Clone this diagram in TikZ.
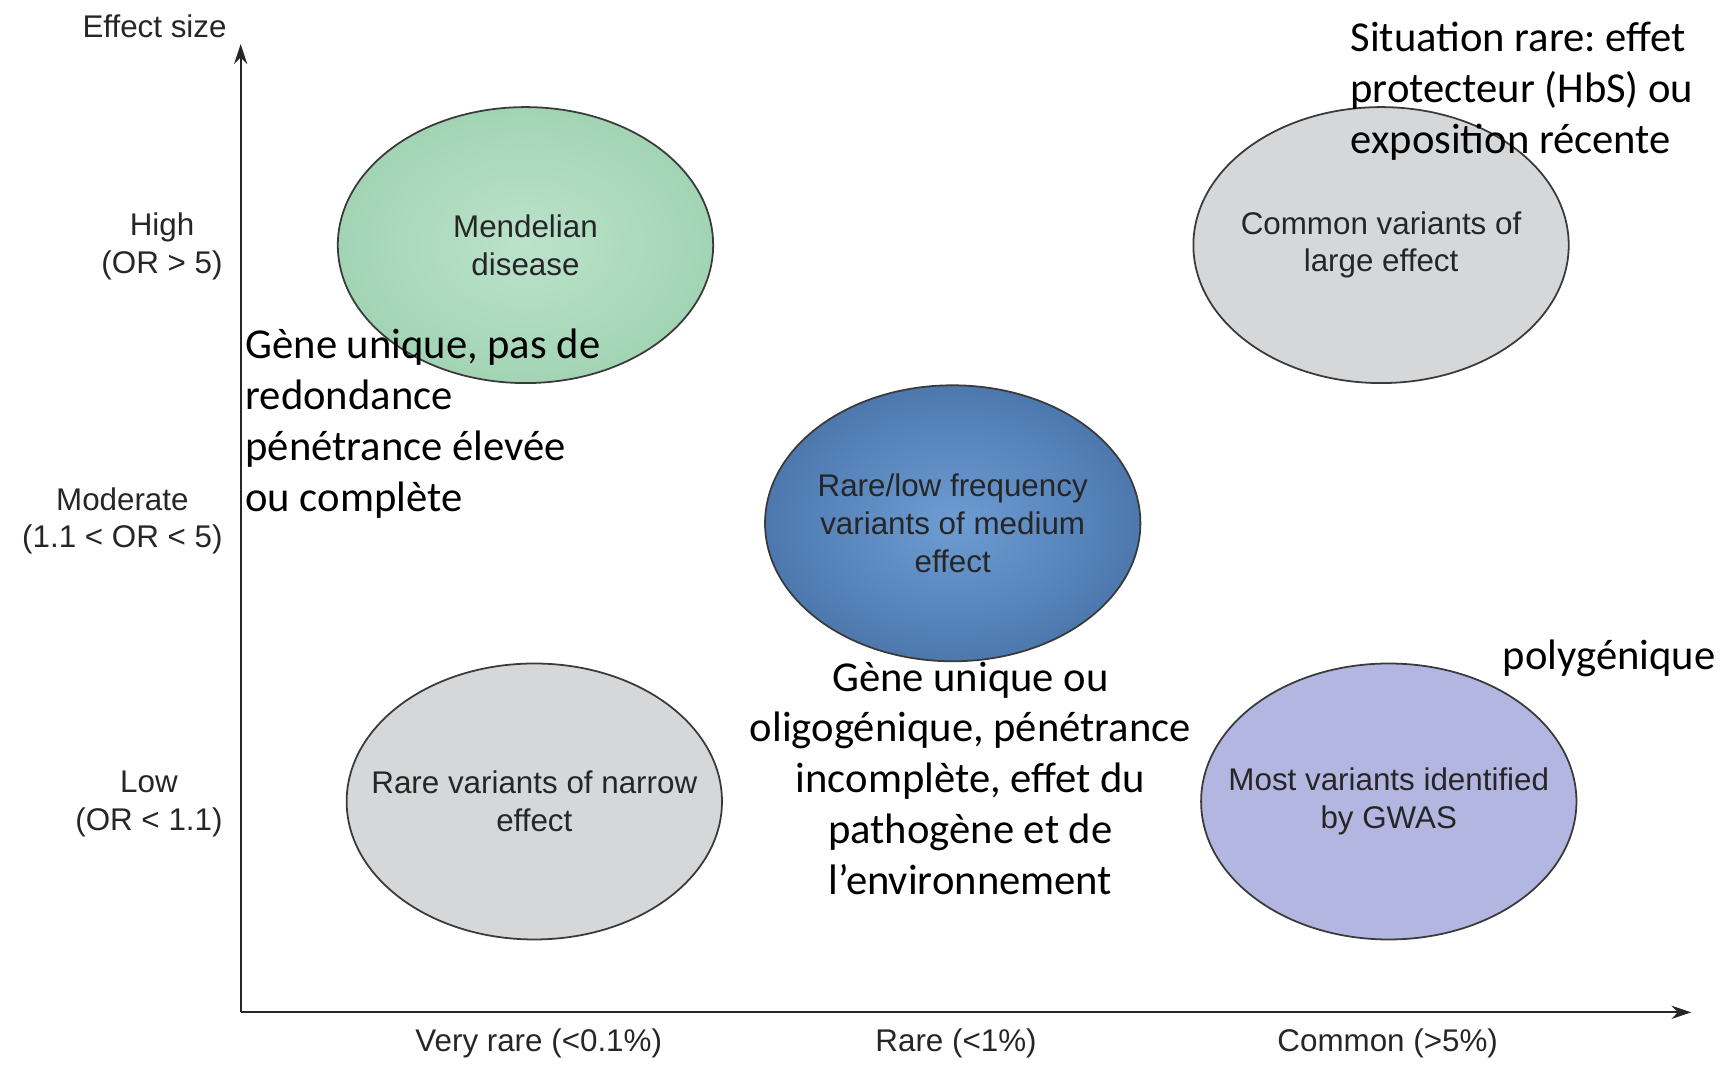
\documentclass[tikz,border=0pt]{standalone}
\usepackage{fontspec}
\setmainfont{Liberation Sans}
\newfontfamily\notefont{Carlito}
\usetikzlibrary{arrows.meta,shapes.geometric}
\frenchspacing

\definecolor{inkgrey}{HTML}{262626}
\definecolor{edgegrey}{HTML}{3A3A3A}
\definecolor{mintin}{HTML}{BBE3CA}
\definecolor{mintout}{HTML}{A2D4B4}
\definecolor{paleg}{HTML}{D5D7D9}
\definecolor{bluein}{HTML}{6E9DD3}
\definecolor{blueout}{HTML}{4C78AE}
\definecolor{lavender}{HTML}{B3B6E1}

\begin{document}
\begin{tikzpicture}[x=0.5pt,y=-0.5pt,
  bubble/.style={ellipse, draw=edgegrey, line width=0.8pt,
    minimum width=170pt, minimum height=125pt, inner sep=0pt},
  intext/.style={align=center, text=inkgrey, inner sep=0pt,
    font=\fontsize{14.2}{17}\selectfont},
  axislabel/.style={align=center, text=inkgrey, inner sep=0pt,
    font=\fontsize{14.2}{17}\selectfont},
  note/.style={inner sep=0pt, text=black,
    font=\notefont\fontsize{19.3}{23}\selectfont},
  axisline/.style={draw=inkgrey, line width=1pt,
    -{Stealth[length=9pt,width=6pt]}}
]
% page frame
\useasboundingbox (0,0) rectangle (1568,971);

% axes
\coordinate (origin) at (218,917);
\coordinate (ytop) at (218,40);
\coordinate (xend) at (1532,917);
\draw[axisline] (origin) -- (ytop);
\draw[axisline] (origin) -- (xend);

\node[axislabel] (ytitle) at (140,24) {Effect size};
\node[axislabel, anchor=east] (yhigh) at (202,223) {High\\(OR > 5)};
\node[axislabel, anchor=east] (ymod) at (202,472) {Moderate\\(1.1 < OR < 5)};
\node[axislabel, anchor=east] (ylow) at (202,728) {Low\\(OR < 1.1)};

\node[axislabel] (xvrare) at (488,945) {Very rare (<0.1\%)};
\node[axislabel] (xrare) at (866,945) {Rare (<1\%)};
\node[axislabel] (xcommon) at (1257,945) {Common (>5\%)};

% bubbles
\node[bubble, shading=radial, inner color=mintin, outer color=mintout] (mend) at (476,222) {};
\node[intext] (mendtxt) at (mend) {Mendelian\\disease};

\node[bubble, fill=paleg] (comlarge) at (1251,222) {};
\node[intext] (comlargetxt) at (comlarge) {Common variants of\\large effect};

\node[bubble, shading=radial, inner color=bluein, outer color=blueout] (rarelow) at (863,474) {};
\node[intext] (rarelowtxt) at (rarelow) {Rare/low frequency\\variants of medium\\effect};

\node[bubble, fill=paleg] (narrow) at (484,726) {};
\node[intext] (narrowtxt) at (narrow) {Rare variants of narrow\\effect};

\node[bubble, fill=lavender] (gwas) at (1258,726) {};
\node[intext] (gwastxt) at (gwas) {Most variants identified\\by GWAS};

% annotations (anchored at the baseline of their last line)
\node[note, align=left, anchor=base west] (noterare) at (1223,139)
  {Situation rare: effet\\protecteur (HbS) ou\\exposition récente};
\node[note, align=left, anchor=base west] (notemend) at (222,463)
  {Gène unique, pas de\\redondance\\pénétrance élevée\\ou complète};
\node[note, align=center, anchor=base] (notemid) at (879,810)
  {Gène unique ou\\oligogénique, pénétrance\\incomplète, effet du\\pathogène et de\\l’environnement};
\node[note, anchor=base west] (notepoly) at (1361,606) {polygénique};
\end{tikzpicture}
\end{document}
